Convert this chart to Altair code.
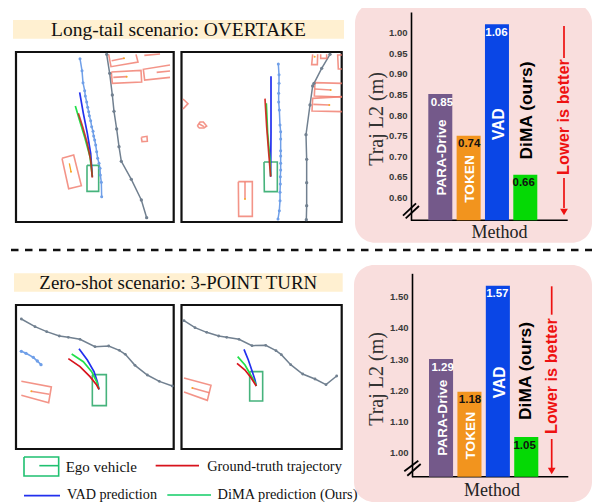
import altair as alt
import pandas as pd

SERIF = "Liberation Serif"
SANS = "Liberation Sans"

# ---------- bar chart values ----------
METHODS = ["PARA-Drive", "TOKEN", "VAD", "DiMA (ours)"]
BAR_COLORS = ["#74598a", "#f2941e", "#0a46e6", "#05d905"]
LABEL_COLORS = ["#ffffff", "#111111", "#ffffff", "#111111"]
TOP_HEIGHTS = [0.851, 0.75, 1.02, 0.655]
TOP_LABELS = ["0.85", "0.74", "1.06", "0.66"]
TOP_TICKS = [0.60, 0.65, 0.70, 0.75, 0.80, 0.85, 0.90, 0.95, 1.00]
BOT_HEIGHTS = [1.30, 1.195, 1.535, 1.05]
BOT_LABELS = ["1.29", "1.18", "1.57", "1.05"]
BOT_TICKS = [1.00, 1.10, 1.20, 1.30, 1.40, 1.50]

# ---------- scene polylines (thirds of a pixel) ----------
LANE = "#6f9fe8"
ROAD = "#718090"
OBJ = "#f0796a"
ORANGE = "#f7a823"
EGO = "#46b37c"
R, G, B = "#d8131c", "#22e04a", "#2230ee"

A_LANE = [(240,176),(246,212),(249,248),(254,272),(256,288),(260,306),(263,322),(266,335),(268,347),(272,362),(275,380),(279,394),(281,408),(284,420),(287,435),(290,455),(293,475),(297,490),(300,505),(301,525),(304,547),(305,590)]
A_ROAD = [(320,163),(329,220),(337,285),(342,334),(350,387),(357,440),(364,484),(394,538),(424,600),(440,653)]
A_OBJ = [
    [(326,163),(333,200),(414,186),(408,163)],
    [(334,216),(423,211),(425,246),(337,250),(334,216)],
    [(510,195),(430,208),(434,240),(510,232)],
    [(433,166),(480,162)],
    [(424,412),(441,409),(442,424),(426,425),(424,412)],
    [(186,475),(221,465),(244,557),(206,566),(186,475)],
    [(335,182),(372,175)],
    [(340,232),(380,230)],
    [(470,217),(510,213)],
]
A_DOTS = [(372,175),(380,230),(213,515)]
A_ORANGE = [[(208,490),(213,515)]]
A_EGO = [(261,496),(296,496),(296,574),(261,574),(261,496)]
A_BLUE = [(239,277),(250,340),(262,400),(272,460),(277,530)]
A_GREEN = [(226,318),(240,365),(255,415),(270,470),(277,530)]
A_RED = [(235,340),(248,380),(262,430),(272,480),(277,533)]

B_LANE = [(835,192),(837,224),(837,250),(836,280),(836,306),(838,330),(840,375),(842,395),(842,417),(842,452),(842,468),(842,490),(842,510),(841,530),(841,552),(840,577),(840,602),(838,632),(834,657)]
B_ROAD = [(990,163),(965,205),(942,250),(938,258),(930,315),(918,404),(920,478),(920,548),(920,617),(919,659)]
B_OBJ = [
    [(938,163),(935,194),(952,194),(953,163)],
    [(962,163),(962,175),(980,175),(980,163)],
    [(1026,165),(1013,165),(1015,207),(1026,207)],
    [(1026,250),(945,248),(943,288),(1026,291)],
    [(1026,290),(938,295),(936,333),(1026,335)],
    [(549,297),(564,311),(549,327)],
    [(592,378),(600,366),(610,366),(620,378),(612,384),(598,384),(592,378)],
    [(598,372),(612,380)],
    [(715,545),(757,545),(757,649),(716,649),(715,545)],
    [(945,267),(992,270)],
    [(940,313),(988,315)],
    [(735,545),(735,597)],
]
B_DOTS = [(944,170),(992,270),(988,315),(735,597)]
B_EGO = [(792,486),(832,486),(832,575),(793,575),(792,486)]
B_BLUE = [(813,229),(813,400),(812,530)]
B_GREEN = [(799,310),(803,400),(810,480),(812,528)]
B_RED = [(795,296),(800,380),(807,470),(812,530)]

# lower scenes: y measured from 250 px
C_ROAD = [(64,207),(105,230),(140,245),(178,258),(205,262),(240,268),(285,290),(326,288),(358,301),(376,313),(405,346),(442,375),(478,394),(517,408)]
C_LANE = [(64,304),(78,310),(100,322),(112,333),(123,344)]
C_OBJ = [[(64,394),(154,411),(146,458),(64,436)], [(94,424),(148,433)]]
C_DOTS = [(94,424)]
C_EGO = [(277,374),(319,374),(319,467),(277,467),(277,374)]
C_BLUE = [(237,296),(262,330),(282,365),(292,395),(297,418)]
C_GREEN = [(215,312),(250,335),(275,365),(290,395),(297,418)]
C_RED = [(205,326),(240,350),(270,380),(290,405),(297,418)]

D_ROAD = [(552,212),(585,233),(620,247),(656,258),(680,262),(717,268),(756,287),(797,286),(828,302),(844,314),(872,344),(908,372),(945,387),(978,404),(1010,378)]
D_OBJ = [[(552,384),(633,406),(622,451),(552,426)], [(577,414),(628,428)]]
D_DOTS = [(577,414)]
D_EGO = [(749,365),(788,365),(788,453),(749,453),(749,365)]
D_BLUE = [(732,298),(745,330),(757,365),(765,390),(769,408)]
D_GREEN = [(713,320),(735,345),(752,375),(765,397),(769,408)]
D_RED = [(711,340),(735,360),(752,382),(769,408)]

LEG_EGO = [(72,621),(176,621),(176,678),(72,678),(72,621)]
LEG_EGO_BAR = [(118,647),(176,647)]
LEG_RED = [(467,647),(597,647)]
LEG_BLUE = [(72,737),(180,737)]
LEG_GREEN = [(502,735),(633,735)]

# ---------- canvas scales: image pixels ----------
X0 = alt.Scale(domain=[8, 592], range=[0, 584])
Y0 = alt.Scale(domain=[8, 504], range=[0, 496])
cx = lambda f="x": alt.X(f"{f}:Q", scale=X0, axis=None)
cy = lambda f="y": alt.Y(f"{f}:Q", scale=Y0, axis=None)

rows, pts = [], []
nid = [0]
OBJ_W, OBJ_A = 1.6, 0.8
EGO_W = 1.6


def add(path, color, width=1.4, op=1.0, dy=0):
    nid[0] += 1
    for i, (x, y) in enumerate(path):
        rows.append(dict(id=nid[0], o=i, x=x / 3, y=y / 3 + dy, c=color, w=width, a=op))


def dots(path, color, size=9, dy=0):
    for x, y in path:
        pts.append(dict(x=x / 3, y=y / 3 + dy, c=color, s=size))


add(A_LANE, LANE, 1.5); dots(A_LANE, LANE)
add(A_ROAD, ROAD, 1.5); dots(A_ROAD, ROAD, 11)
for p in A_OBJ:
    add(p, OBJ, OBJ_W, OBJ_A)
for p in A_ORANGE:
    add(p, ORANGE, 1.3)
dots(A_DOTS, ORANGE, 4)
add(A_EGO, EGO, EGO_W)
add(A_BLUE, B, 1.7); add(A_GREEN, G, 1.7); add(A_RED, "#c81f1a", 1.7, 0.85)

add(B_LANE, LANE, 1.5); dots(B_LANE, LANE)
add(B_ROAD, ROAD, 1.5); dots(B_ROAD, ROAD, 11)
for p in B_OBJ:
    add(p, OBJ, OBJ_W, OBJ_A)
dots(B_DOTS, ORANGE, 4)
add(B_EGO, EGO, EGO_W)
add(B_BLUE, B, 1.7); add(B_GREEN, G, 1.7); add(B_RED, "#d0201c", 1.7, 0.9)

add(C_ROAD, ROAD, 1.5, dy=250); dots(C_ROAD, ROAD, 8, dy=250)
add(C_LANE, LANE, 1.7, dy=250); dots(C_LANE, LANE, 11, dy=250)
for p in C_OBJ:
    add(p, OBJ, OBJ_W, OBJ_A, dy=250)
dots(C_DOTS, ORANGE, 4, dy=250)
add(C_EGO, EGO, EGO_W, dy=250)
add(C_BLUE, B, 1.7, dy=250); add(C_GREEN, G, 1.7, dy=250); add(C_RED, R, 1.7, dy=250)

add(D_ROAD, ROAD, 1.5, dy=250); dots(D_ROAD, ROAD, 8, dy=250)
for p in D_OBJ:
    add(p, OBJ, OBJ_W, OBJ_A, dy=250)
dots(D_DOTS, ORANGE, 4, dy=250)
add(D_EGO, EGO, EGO_W, dy=250)
add(D_BLUE, B, 1.7, dy=250); add(D_GREEN, G, 1.7, dy=250); add(D_RED, R, 1.7, dy=250)

add(LEG_EGO, "#1fc070", 1.6, dy=250)
add(LEG_EGO_BAR, "#1fc070", 1.6, dy=250)
add(LEG_RED, R, 1.7, dy=250)
add(LEG_BLUE, B, 1.7, dy=250)
add(LEG_GREEN, "#10cc66", 1.7, dy=250)

# axis breaks (image px)
for seg in ([(403, 215.7), (416, 203.3)], [(405.7, 218.3), (419, 206)],
            [(404.3, 471.3), (418.3, 460.7)], [(407.3, 475.7), (420.7, 464)]):
    add([(x * 3, y * 3) for x, y in seg], "#000000", 1.8)
# baselines
add([(411 * 3, 220.3 * 3), (567.7 * 3, 220.3 * 3)], "#000000", 1.6)
add([(412 * 3, 476.7 * 3), (568.3 * 3, 476.7 * 3)], "#000000", 1.6)
# red arrows
for seg in ([(564, 26), (564, 58)], [(564, 178), (564, 208)],
            [(551.7, 286.3), (551.7, 314.7)], [(551.7, 439), (551.7, 468)]):
    add([(x * 3, y * 3) for x, y in seg], "#ee1111", 1.7)

lines = alt.Chart(pd.DataFrame(rows)).mark_line(strokeCap="butt", strokeJoin="miter").encode(
    x=cx(), y=cy(), detail="id:N", order="o:Q",
    color=alt.Color("c:N", scale=None),
    strokeWidth=alt.StrokeWidth("w:Q", scale=None),
    opacity=alt.Opacity("a:Q", scale=None),
)
points = alt.Chart(pd.DataFrame(pts)).mark_circle(opacity=1).encode(
    x=cx(), y=cy(), color=alt.Color("c:N", scale=None), size=alt.Size("s:Q", scale=None)
)

# arrow heads
heads = alt.Chart(pd.DataFrame({"x": [564, 551.7], "y": [212, 471]})).mark_point(
    shape="triangle-down", filled=True, color="#ee1111", size=60, opacity=1
).encode(x=cx(), y=cy())

# ---------- rectangles ----------
def rects(data, **kw):
    return alt.Chart(pd.DataFrame(data)).mark_rect(**kw).encode(
        x=cx("x"), x2="x2:Q", y=cy("y"), y2="y2:Q"
    )


pink = rects({"x": [355, 354], "x2": [592, 592], "y": [3, 265], "y2": [242.7, 502]},
             fill="#f9dedd", cornerRadius=20)
bands = rects({"x": [13, 14], "x2": [344, 342.7], "y": [20, 273.3], "y2": [38.7, 291.7]},
              fill="#fff0d1")
frames = rects({"x": [16, 181.5, 16, 181.5], "x2": [173.7, 341.7, 173.7, 341.7],
                "y": [52, 52, 305, 305], "y2": [222, 222, 449, 449]},
               fill="#ffffff", stroke="#111111", strokeWidth=2.2)

dash = alt.Chart(pd.DataFrame({"x": [11, 592], "y": [250, 250]})).mark_line(
    color="#111111", strokeWidth=2.4, strokeDash=[7.5, 6.5]
).encode(x=cx(), y=cy())


# ---------- bar panels ----------
def bar_panel(heights, labels, ticks, y_px, y_val, x_px, axis_x):
    df = pd.DataFrame({"m": METHODS, "h": heights, "t": labels, "c": BAR_COLORS, "lc": LABEL_COLORS})
    ys = alt.Scale(domain=y_val, range=[y_px[0] - 8, y_px[1] - 8], zero=False, nice=False)
    step_inner = 4.33 / 28.33
    xs = alt.Scale(domain=METHODS, range=[x_px[0] - 8, x_px[1] - 8],
                   paddingInner=step_inner, paddingOuter=0)
    axis = alt.Axis(values=ticks, format=".2f", title=None, grid=False, ticks=False, tickSize=0,
                    offset=-(axis_x - 8), orient="left", labelFont=SANS, labelFontWeight="bold",
                    labelFontSize=9.5, labelColor="#3a3a3a", labelPadding=4, domainColor="#000000",
                    domainWidth=1.6, zindex=1)
    bars = alt.Chart(df).mark_bar().encode(
        x=alt.X("m:N", scale=xs, axis=None, sort=METHODS),
        y=alt.Y("h:Q", scale=ys, axis=axis),
        y2=alt.Y2(datum=y_val[0]),
        color=alt.Color("c:N", scale=None),
    )
    vals = alt.Chart(df).mark_text(font=SANS, fontWeight="bold", fontSize=11.5, baseline="top", dy=2.5).encode(
        x=alt.X("m:N", scale=xs, axis=None, sort=METHODS),
        y=alt.Y("h:Q", scale=ys, axis=None),
        text="t:N",
        color=alt.Color("lc:N", scale=None),
    )
    return [bars, vals]


top_layers = bar_panel(TOP_HEIGHTS, TOP_LABELS, TOP_TICKS, (220.3, 12), [0.5446, 1.05], (428.3, 537.3), 411)
bot_layers = bar_panel(BOT_HEIGHTS, BOT_LABELS, BOT_TICKS, (476.7, 273.3), [0.923, 1.575], (429, 538.3), 412)

# ---------- texts ----------
sans_rows = [
    ("PARA-Drive", 441.7, 157.5, 270, 13.6, "#ffffff"),
    ("TOKEN", 470, 179, 270, 13.7, "#ffffff"),
    ("VAD", 499, 124, 270, 15.6, "#ffffff"),
    ("DiMA (ours)", 526.7, 110.5, 270, 17.4, "#000000"),
    ("Lower is better", 564.3, 117, 270, 16.3, "#ee1111"),
    ("PARA-Drive", 442.7, 417.7, 270, 13.6, "#ffffff"),
    ("TOKEN", 470.7, 435.7, 270, 13.7, "#ffffff"),
    ("VAD", 500, 382.3, 270, 15.6, "#ffffff"),
    ("DiMA (ours)", 526, 371, 270, 17.4, "#000000"),
    ("Lower is better", 551.7, 376, 270, 16.3, "#ee1111"),
]
serif_rows = [
    ("Long-tail scenario: OVERTAKE", 178.5, 29.5, 0, 19.5, "#111111"),
    ("Zero-shot scenario: 3-POINT TURN", 178.3, 283, 0, 18.9, "#111111"),
    ("Traj L2 (m)", 376.7, 119, 270, 20, "#333333"),
    ("Traj L2 (m)", 376.7, 379, 270, 20, "#333333"),
    ("Method", 499.6, 233, 0, 18, "#222222"),
    ("Method", 492, 490.5, 0, 18, "#222222"),
    ("Ego vehicle", 101.3, 467, 0, 15, "#111111"),
    ("Ground-truth trajectory", 274.5, 466.5, 0, 14.4, "#111111"),
    ("VAD prediction", 112, 494.5, 0, 14.2, "#111111"),
    ("DiMA prediction (Ours)", 287.5, 494.5, 0, 14.4, "#111111"),
]


def texts(tb, font, weight):
    d = pd.DataFrame(tb, columns=["t", "x", "y", "ang", "fs", "c"])
    return alt.Chart(d).mark_text(font=font, fontWeight=weight, baseline="middle", align="center").encode(
        x=cx(), y=cy(), text="t:N",
        angle=alt.Angle("ang:Q", scale=None),
        size=alt.Size("fs:Q", scale=None),
        color=alt.Color("c:N", scale=None),
    )


chart = alt.layer(
    pink, bands, frames, dash, lines, points,
    *top_layers, *bot_layers,
    heads,
    texts(sans_rows, SANS, "bold"),
    texts(serif_rows, SERIF, "normal"),
).resolve_scale(x="independent", y="independent").properties(
    width=584, height=496, padding=0, background="#ffffff",
    autosize=alt.AutoSizeParams(type="none"),
).configure_view(stroke=None)

chart.save("out.html", embed_options={"renderer": "svg", "actions": False})
